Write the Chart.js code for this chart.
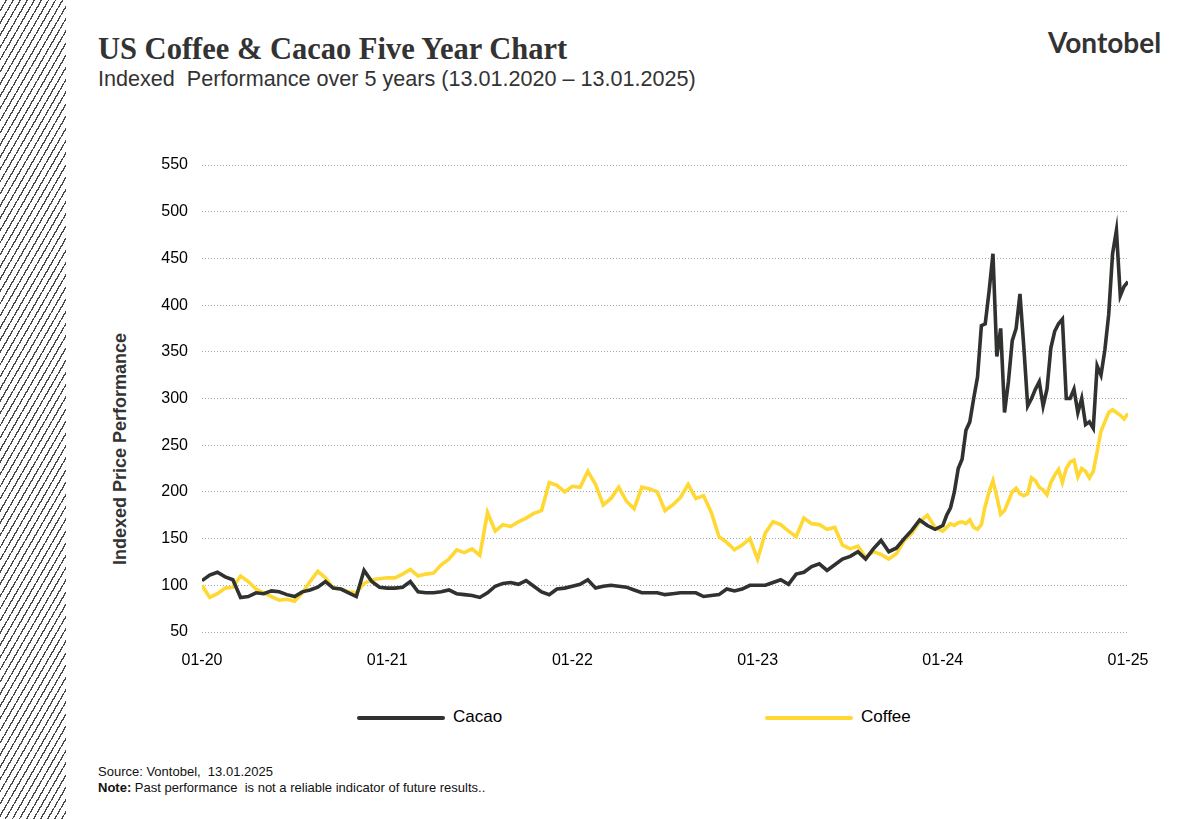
<!DOCTYPE html>
<html>
<head>
<meta charset="utf-8">
<script src="https://cdn.jsdelivr.net/npm/chart.js@4.4.1/dist/chart.umd.min.js"></script>
<style>
html, body { margin: 0; padding: 0; background: #fff; }
body { width: 1197px; height: 819px; position: relative; overflow: hidden; font-family: "Liberation Sans", Arial, sans-serif; }
#hatch { position: absolute; left: 0; top: 0; width: 66px; height: 819px;
  background: repeating-linear-gradient(120deg, #fff 0, #fff 4.8px, #4a4a4a 4.8px, #4a4a4a 6.1px); }
#title { position: absolute; left: 98px; top: 32px; font-family: "Liberation Serif", serif; font-weight: bold; font-size: 30.5px; color: #333; white-space: nowrap; }
#subtitle { position: absolute; left: 98px; top: 66px; font-size: 21.6px; color: #333; white-space: pre; }
#logo { position: absolute; left: 1048px; top: 25px; font-family: Lato, sans-serif; font-weight: bold; font-size: 28px; color: #333; }
#ytitle { position: absolute; left: 120px; top: 449px; transform: translate(-50%, -50%) rotate(-90deg); font-weight: bold; font-size: 18px; color: #333; white-space: nowrap; }
#chart { position: absolute; left: 95px; top: 130px; }
.leg { position: absolute; top: 707px; font-size: 17px; color: #000; }
.leg span.ln { position: absolute; top: 9px; width: 88px; height: 4px; border-radius: 2px; }
.leg span.tx { position: absolute; left: 96px; top: 0; white-space: nowrap; }
#source { position: absolute; left: 98px; top: 764px; font-size: 13px; color: #111; white-space: pre; }
#note { position: absolute; left: 98px; top: 780px; font-size: 13px; color: #111; white-space: pre; }
</style>
</head>
<body>
<div id="hatch"></div>
<div id="title">US Coffee &amp; Cacao Five Year Chart</div>
<div id="subtitle">Indexed  Performance over 5 years (13.01.2020 – 13.01.2025)</div>
<div id="logo">Vontobel</div>
<div id="ytitle">Indexed Price Performance</div>
<canvas id="chart" width="1080" height="540"></canvas>
<div id="legend"></div>
<div id="source">Source: Vontobel,  13.01.2025</div>
<div id="note"><b>Note:</b> Past performance  is not a reliable indicator of future results..</div>
<script>
const xTickLabels = ['01-20', '01-21', '01-22', '01-23', '01-24', '01-25'];

// months since 13.01.2020: half-monthly to 01-24, then quarter-monthly
const months = [];
for (let m = 0; m <= 48; m += 0.5) months.push(m);
for (let m = 48.25; m <= 60.001; m += 0.25) months.push(m);

const cacao = [
  105, 111, 114, 109, 106, 87, 88, 92, 91, 94, 93, 90, 88, 93, 95, 98, 104, 97, 96, 92,
  88, 116, 104, 98, 97, 97, 98, 104, 93, 92, 92, 93, 95, 91, 90, 89, 87, 92, 99, 102,
  103, 101, 105, 99, 93, 90, 96, 97, 99, 101, 106, 97, 99, 100, 99, 98, 95, 92, 92, 92,
  90, 91, 92, 92, 92, 88, 89, 90, 96, 94, 96, 100, 100, 100, 103, 106, 101, 112, 114, 120,
  123, 116, 122, 128, 131, 136, 128, 139, 148, 136, 140, 150, 159, 170, 164, 160, 164,
  175, 183, 200, 225, 235, 266, 275, 300, 323, 378, 380, 415, 455, 345, 375, 285,
  318, 362, 375, 412, 355, 292, 300, 310, 318, 292, 310, 354, 372, 380, 385, 300,
  300, 310, 285, 300, 272, 275, 268, 335, 325, 352, 390, 455, 480, 410, 420, 425
];

const coffee = [
  100, 87, 91, 97, 98, 110, 104, 96, 92, 88, 84, 85, 83, 92, 104, 115, 108, 97, 96, 93,
  92, 102, 106, 107, 108, 108, 112, 117, 110, 112, 113, 122, 128, 138, 135, 139, 132, 178, 158, 165,
  163, 168, 172, 177, 180, 210, 207, 200, 206, 205, 222, 208, 186, 193, 205, 190, 182, 205, 203, 200,
  180, 186, 194, 208, 193, 196, 178, 152, 146, 138, 143, 150, 128, 156, 168, 165, 158, 152, 172, 166,
  165, 160, 162, 143, 139, 142, 130, 136, 133, 128, 134, 148, 156, 168, 175, 162, 158,
  162, 166, 164, 167, 168, 166, 170, 162, 160, 165, 185, 200, 212, 195, 176, 180,
  190, 200, 204, 198, 196, 198, 215, 212, 205, 202, 197, 210, 218, 224, 210, 225,
  232, 234, 216, 225, 222, 215, 222, 243, 265, 275, 285, 288, 285, 282, 278, 284
];

const toPoints = vals => vals.map((v, i) => ({ x: months[i], y: v }));

const cacaoColor = '#2f322f';
const coffeeColor = '#ffd833';
const tickFont = { family: '"Liberation Sans", Arial, sans-serif', size: 16 };

var ct = document.getElementById('chart').getContext('2d');

var mChart = new Chart(ct, {
  type: 'line',
  data: {
    datasets: [{
      label: 'Cacao',
      data: toPoints(cacao),
      borderColor: cacaoColor,
      backgroundColor: cacaoColor,
      borderWidth: 3.6,
      pointRadius: 0,
      tension: 0
    }, {
      label: 'Coffee',
      data: toPoints(coffee),
      borderColor: coffeeColor,
      backgroundColor: coffeeColor,
      borderWidth: 3.6,
      pointRadius: 0,
      tension: 0
    }]
  },
  options: {
    responsive: false,
    animation: false,
    layout: { padding: { top: 35, right: 47, left: 0, bottom: 0 } },
    plugins: { legend: { display: false }, tooltip: { enabled: false } },
    scales: {
      x: {
        type: 'linear',
        min: 0,
        max: 60,
        grid: { display: false },
        border: { display: false },
        ticks: {
          stepSize: 12,
          autoSkip: false,
          maxRotation: 0,
          padding: 11,
          color: '#000',
          font: tickFont,
          callback: v => xTickLabels[Math.round(v / 12)]
        },
        afterFit: s => { s.height = 38; }
      },
      y: {
        min: 50,
        max: 550,
        grid: { color: '#a6a6a6', lineWidth: 1, drawTicks: false },
        border: { display: false, dash: [1, 2] },
        ticks: { stepSize: 50, padding: 14, color: '#000', font: tickFont },
        afterFit: s => { s.width = 107; }
      }
    }
  }
});

// legend from the datasets
const legendPos = [357, 765];
mChart.data.datasets.forEach((ds, i) => {
  const item = document.createElement('div');
  item.className = 'leg';
  item.style.left = legendPos[i] + 'px';
  item.innerHTML = '<span class="ln" style="background:' + ds.borderColor + '"></span><span class="tx">' + ds.label + '</span>';
  document.getElementById('legend').appendChild(item);
});
</script>
</body>
</html>
